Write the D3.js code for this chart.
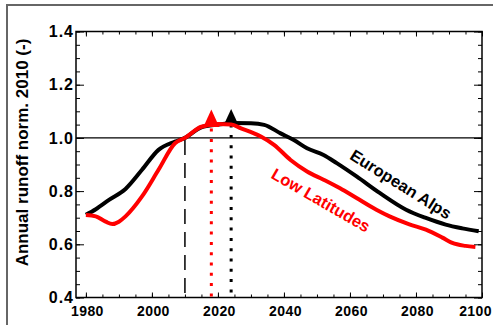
<!DOCTYPE html>
<meta charset="utf-8">
<style>
  body { margin: 0; background: #fff; }
  svg { font-family: "Liberation Sans", Arial, sans-serif; font-weight: bold; }
  .axis path { display: none; }
  .axis line { stroke: #000; stroke-width: 1; }
  .ylab text { font-size: 16px; letter-spacing: 1px; }
  .xlab text { font-size: 14px; letter-spacing: 0.4px; }
</style>
<body>
<svg width="493" height="325"></svg>
<script src="https://d3js.org/d3.v7.min.js"></script>
<script>
// series: European Alps (black) and Low Latitudes (red)
var alpsYears = [1980, 1983, 1987, 1992, 1997, 2002, 2007, 2010, 2015, 2020, 2025, 2030, 2034, 2039, 2043, 2047, 2052, 2056, 2062, 2069, 2077, 2083, 2089, 2094, 2099];
var alpsValues = [0.711, 0.732, 0.767, 0.808, 0.88, 0.955, 0.986, 1.0, 1.04, 1.05, 1.056, 1.055, 1.049, 1.017, 0.992, 0.961, 0.936, 0.905, 0.855, 0.793, 0.73, 0.699, 0.674, 0.66, 0.649];

var lowYears = [1980, 1983, 1986, 1988, 1990, 1992, 1997, 2002, 2007, 2010, 2015, 2020, 2024, 2027, 2033, 2037, 2042, 2047, 2052, 2057, 2062, 2068, 2072, 2078, 2083, 2088, 2091, 2095, 2098];
var lowValues = [0.71, 0.705, 0.685, 0.676, 0.685, 0.705, 0.78, 0.88, 0.98, 1.0, 1.042, 1.052, 1.05, 1.036, 1.005, 0.974, 0.917, 0.874, 0.843, 0.811, 0.774, 0.73, 0.705, 0.675, 0.655, 0.625, 0.605, 0.594, 0.59];

// peak markers (triangles + dotted lines)
var peakYears = [2024, 2018];
var peakValues = [1.076, 1.063];
var peakLineTop = [1.05, 1.035];
var peakColors = ["#000", "#ff0000"];
var peakSizes = [12, 16];

var refYear = 2010;
var xMajor = [1980, 2000, 2020, 2040, 2060, 2080, 2100];
var xMinor = d3.range(1980, 2101, 5);
var yMajor = [0.4, 0.6, 0.8, 1.0, 1.2, 1.4];
var yMinor = d3.range(8, 29).map(function(d) { return d * 0.05; });

var svg = d3.select("svg");
var pL = 76, pR = 482, pT = 31.5, pB = 297.5;

var x = d3.scaleLinear().domain([1977, 2100]).range([pL, pR]);
var y = d3.scaleLinear().domain([0.4, 1.4]).range([pB, pT]);

// outer frame
svg.append("rect")
  .attr("x", 7).attr("y", 5).attr("width", 530).attr("height", 340)
  .attr("fill", "none").attr("stroke", "#666").attr("stroke-width", 2);

// ticks
function ticks(axis, vals, size) {
  return axis.tickValues(vals).tickSize(size).tickFormat("");
}
svg.append("g").attr("class", "axis").attr("transform", "translate(0," + pB + ")")
  .call(ticks(d3.axisBottom(x), xMinor, -3));
svg.append("g").attr("class", "axis").attr("transform", "translate(0," + pB + ")")
  .call(ticks(d3.axisBottom(x), xMajor, -5));
svg.append("g").attr("class", "axis").attr("transform", "translate(0," + pT + ")")
  .call(ticks(d3.axisTop(x), xMinor, -3));
svg.append("g").attr("class", "axis").attr("transform", "translate(0," + pT + ")")
  .call(ticks(d3.axisTop(x), xMajor, -5));
svg.append("g").attr("class", "axis").attr("transform", "translate(" + pL + ",0)")
  .call(ticks(d3.axisLeft(y), yMinor, -4));
svg.append("g").attr("class", "axis").attr("transform", "translate(" + pL + ",0)")
  .call(ticks(d3.axisLeft(y), yMajor, -8));
svg.append("g").attr("class", "axis").attr("transform", "translate(" + pR + ",0)")
  .call(ticks(d3.axisRight(y), yMinor, -4));
svg.append("g").attr("class", "axis").attr("transform", "translate(" + pR + ",0)")
  .call(ticks(d3.axisRight(y), yMajor, -8));

// tick labels
var xl = svg.append("g").attr("class", "axis xlab").attr("transform", "translate(1," + pB + ")")
  .call(d3.axisBottom(x).tickValues(xMajor).tickSize(0).tickPadding(8.5).tickFormat(d3.format("d")));
// last label pulled in so it fits the page
xl.selectAll(".tick text").filter(function(d) { return d === 2100; }).attr("dx", -8);
svg.append("g").attr("class", "axis ylab").attr("transform", "translate(" + (pL + 1) + ",0)")
  .call(d3.axisLeft(y).tickValues(yMajor).tickSize(0).tickPadding(3).tickFormat(d3.format(".1f")));
svg.selectAll(".axis text").attr("fill", "#000");

// plot box
svg.append("rect")
  .attr("x", pL).attr("y", pT).attr("width", pR - pL).attr("height", pB - pT)
  .attr("fill", "none").attr("stroke", "#000").attr("stroke-width", 1.5);

// reference line at 1.0
svg.append("line")
  .attr("x1", pL).attr("x2", pR).attr("y1", y(1)).attr("y2", y(1))
  .attr("stroke", "#000").attr("stroke-width", 1.3);

// dashed 2010 line
svg.append("line")
  .attr("x1", x(refYear)).attr("x2", x(refYear)).attr("y1", y(1) + 2).attr("y2", pB)
  .attr("stroke", "#000").attr("stroke-width", 1.5).attr("stroke-dasharray", "15,8");

// dotted peak lines
peakYears.forEach(function(yr, i) {
  svg.append("line")
    .attr("x1", x(yr)).attr("x2", x(yr)).attr("y1", y(peakLineTop[i])).attr("y2", pB)
    .attr("stroke", peakColors[i]).attr("stroke-width", 3).attr("stroke-dasharray", "3,7.3");
});

var line = d3.line().curve(d3.curveMonotoneX)
  .x(function(d) { return x(d[0]); })
  .y(function(d) { return y(d[1]); });

svg.append("path")
  .datum(d3.zip(alpsYears, alpsValues))
  .attr("d", line).attr("fill", "none").attr("stroke", "#000").attr("stroke-width", 4);
svg.append("path")
  .datum(d3.zip(lowYears, lowValues))
  .attr("d", line).attr("fill", "none").attr("stroke", "#ff0000").attr("stroke-width", 4);

// triangles
peakYears.forEach(function(yr, i) {
  var cx = x(yr), cy = y(peakValues[i]), s = peakSizes[i];
  var h = s * 1.1;
  svg.append("path")
    .attr("d", "M" + cx + "," + (cy - h * 2 / 3) + "L" + (cx + s / 2) + "," + (cy + h / 3) +
      "L" + (cx - s / 2) + "," + (cy + h / 3) + "Z")
    .attr("fill", peakColors[i]);
});

// series labels
svg.append("text")
  .attr("transform", "translate(401,184) rotate(32)")
  .attr("text-anchor", "middle").attr("dominant-baseline", "central")
  .style("font-size", "16.5px").attr("fill", "#000")
  .text("European Alps");
svg.append("text")
  .attr("transform", "translate(321,200) rotate(30)")
  .attr("text-anchor", "middle").attr("dominant-baseline", "central")
  .style("font-size", "16.5px").attr("fill", "#ff0000")
  .text("Low Latitudes");

// y axis title
svg.append("text")
  .attr("transform", "translate(27.5,152.5) rotate(-90)")
  .attr("text-anchor", "middle")
  .style("font-size", "17px").attr("fill", "#000")
  .text("Annual runoff norm. 2010 (-)");
</script>
</body>
